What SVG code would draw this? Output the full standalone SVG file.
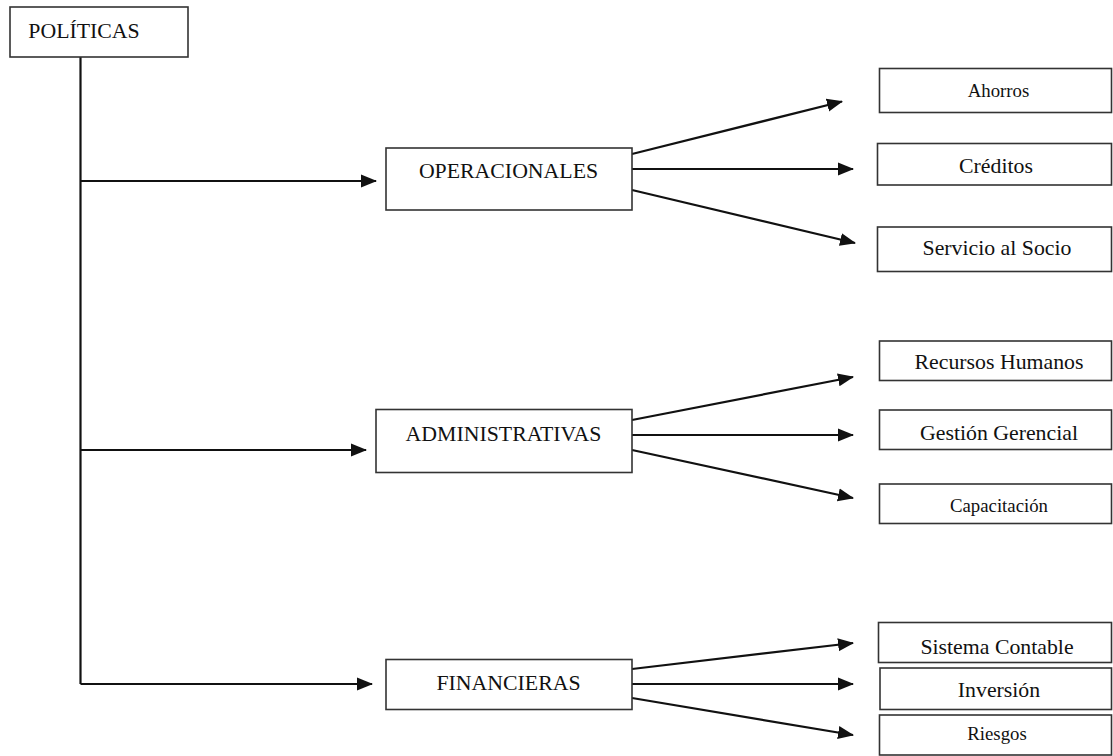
<svg xmlns="http://www.w3.org/2000/svg" width="1113" height="756" viewBox="0 0 1113 756">
<style>
.box{fill:#fff;stroke:#333;stroke-width:1.6}
.t{font-family:"Liberation Serif","Times New Roman",serif;font-size:21.8px;fill:#111;text-anchor:middle}
.s{font-size:18.8px}
.c{fill:none;stroke:#111;stroke-width:2.2}
</style>
<defs>
<marker id="ah" markerUnits="userSpaceOnUse" markerWidth="16" markerHeight="14" refX="15" refY="7" orient="auto" viewBox="0 0 16 14">
<path d="M0,0.5 L16,7 L0,13.5 z" fill="#111"/>
</marker>
</defs>
<g id="connectors">
<polyline class="c" points="80.5,57 80.5,684"/>
<line class="c" x1="80.5" y1="181" x2="376" y2="181" marker-end="url(#ah)"/>
<line class="c" x1="80.5" y1="450" x2="366" y2="450" marker-end="url(#ah)"/>
<line class="c" x1="80.5" y1="684" x2="372" y2="684" marker-end="url(#ah)"/>
<line class="c" x1="632" y1="154" x2="842" y2="101.5" marker-end="url(#ah)"/>
<line class="c" x1="632" y1="169" x2="853" y2="169" marker-end="url(#ah)"/>
<line class="c" x1="632" y1="190" x2="855" y2="243" marker-end="url(#ah)"/>
<line class="c" x1="632" y1="420" x2="853" y2="377" marker-end="url(#ah)"/>
<line class="c" x1="632" y1="435" x2="853" y2="435" marker-end="url(#ah)"/>
<line class="c" x1="632" y1="450" x2="853" y2="498" marker-end="url(#ah)"/>
<line class="c" x1="632" y1="669" x2="853" y2="643" marker-end="url(#ah)"/>
<line class="c" x1="632" y1="684" x2="853" y2="684" marker-end="url(#ah)"/>
<line class="c" x1="632" y1="698" x2="853" y2="735" marker-end="url(#ah)"/>
</g>
<g id="politicas"><rect class="box" x="10" y="7" width="178" height="50"/><text class="t" x="84" y="37.5">POLÍTICAS</text></g>
<g id="operacionales"><rect class="box" x="386" y="148" width="246" height="62"/><text class="t" x="508.5" y="177.5">OPERACIONALES</text></g>
<g id="administrativas"><rect class="box" x="376" y="409.5" width="256" height="63"/><text class="t" x="503.5" y="441">ADMINISTRATIVAS</text></g>
<g id="financieras"><rect class="box" x="386" y="659.5" width="246" height="50"/><text class="t" x="508.5" y="690">FINANCIERAS</text></g>
<g id="ahorros"><rect class="box" x="879.5" y="68.5" width="232" height="44"/><text class="t s" x="998.5" y="96.5">Ahorros</text></g>
<g id="creditos"><rect class="box" x="877.5" y="143.5" width="234" height="41.5"/><text class="t" x="996" y="172.5">Créditos</text></g>
<g id="servicio"><rect class="box" x="877.5" y="227" width="234" height="44.5"/><text class="t" x="997" y="254.5">Servicio al Socio</text></g>
<g id="recursos"><rect class="box" x="879.5" y="341" width="232" height="39.5"/><text class="t" x="999" y="369">Recursos Humanos</text></g>
<g id="gestion"><rect class="box" x="879.5" y="410" width="232" height="39.5"/><text class="t" x="999" y="439.5">Gestión Gerencial</text></g>
<g id="capacitacion"><rect class="box" x="879.5" y="484" width="232" height="39.5"/><text class="t s" x="999" y="511.5">Capacitación</text></g>
<g id="sistema"><rect class="box" x="878.5" y="622.5" width="233" height="40"/><text class="t" x="997" y="653.5">Sistema Contable</text></g>
<g id="inversion"><rect class="box" x="880" y="668" width="231.5" height="41.5"/><text class="t" x="999" y="696.5">Inversión</text></g>
<g id="riesgos"><rect class="box" x="879.5" y="715" width="232" height="40"/><text class="t s" x="997" y="740">Riesgos</text></g>
</svg>
